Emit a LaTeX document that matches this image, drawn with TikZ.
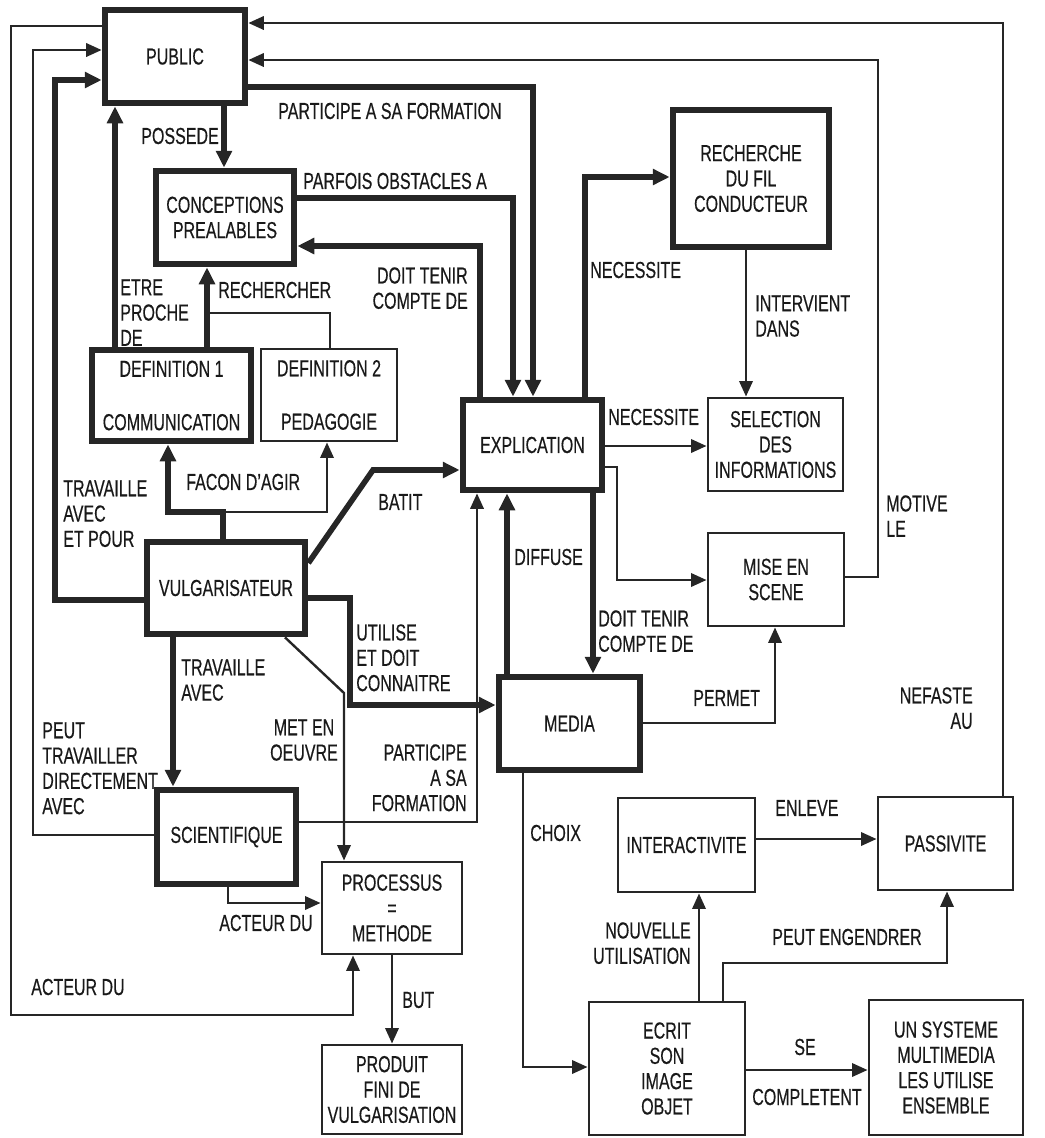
\documentclass[tikz,border=0pt]{standalone}
\usepackage{fontspec}
\setmainfont[FakeStretch=0.69, FakeBold=0.4]{Liberation Sans}
\usetikzlibrary{arrows.meta, positioning, calc}

\begin{document}
\begin{tikzpicture}[
    x=0.025cm, y=-0.025cm,
    every node/.style={font=\fontsize{16.5}{18}\selectfont, text=black!90},
    sz/.style 2 args={minimum width=#1*0.025cm, minimum height=#2*0.025cm},
    thickbox/.style={rectangle, draw=black!85, line width=4.8pt, align=center, inner sep=2pt},
    thinbox/.style={rectangle, draw=black!85, line width=2.1pt, align=center, inner sep=2pt},
    lbl/.style={inner sep=0pt, align=left},
    thk/.style={-{Triangle[length=12pt, width=11pt]}, line width=4pt, draw=black!85},
    thn/.style={-{Triangle[length=11pt, width=9.5pt]}, line width=1.7pt, draw=black!85},
    plain/.style={line width=1.7pt, draw=black!85}
]
    \useasboundingbox (0,0) rectangle (1045,1138);

    % boxes
    \node (pub) [thickbox, sz={140}{93}] at (175,56.5) {PUBLIC};
    \node (conc) [thickbox, sz={138}{93}] at (225,217.5) {CONCEPTIONS\\PREALABLES};
    \node (def1) [thickbox, sz={159}{91}] at (171.5,395.5) {DEFINITION 1\\[20pt]COMMUNICATION};
    \node (def2) [thinbox, sz={136}{92}] at (329,395) {DEFINITION 2\\[20pt]PEDAGOGIE};
    \node (expl) [thickbox, sz={139}{90}] at (532.5,445) {EXPLICATION};
    \node (rech) [thickbox, sz={156}{137}] at (751,178.5) {RECHERCHE\\DU FIL\\CONDUCTEUR};
    \node (sel) [thinbox, sz={135}{93}] at (775.5,444.5) {SELECTION\\DES\\INFORMATIONS};
    \node (mise) [thinbox, sz={136}{93}] at (776,579.5) {MISE EN\\SCENE};
    \node (vulg) [thickbox, sz={158}{92}] at (226,588) {VULGARISATEUR};
    \node (media) [thickbox, sz={141}{93}] at (569.5,723.5) {MEDIA};
    \node (sci) [thickbox, sz={139}{94}] at (226.5,837) {SCIENTIFIQUE};
    \node (proc) [thinbox, sz={140}{92}] at (392,908) {PROCESSUS\\=\\METHODE};
    \node (prod) [thinbox, sz={140}{89}] at (392,1089.5) {PRODUIT\\FINI DE\\VULGARISATION};
    \node (inter) [thinbox, sz={137}{94}] at (686.5,845) {INTERACTIVITE};
    \node (pass) [thinbox, sz={135}{93}] at (945.5,843.5) {PASSIVITE};
    \node (ecrit) [thinbox, sz={156}{133}] at (667,1068.5) {ECRIT\\SON\\IMAGE\\OBJET};
    \node (syst) [thinbox, sz={154}{135}] at (946,1067.5) {UN SYSTEME\\MULTIMEDIA\\LES UTILISE\\ENSEMBLE};

    \coordinate (fork) at (223,512);
    \coordinate (rjoin) at (207,313);

    % labels
    \node (lPossede) [lbl, anchor=east] at (219,136) {POSSEDE};
    \node (lForm1) [lbl, anchor=west] at (278,111) {PARTICIPE A SA FORMATION};
    \node (lObst) [lbl, anchor=west] at (303,181) {PARFOIS OBSTACLES A};
    \node (lTenir1) [lbl, anchor=north east, align=right] at (468,267) {DOIT TENIR\\COMPTE DE};
    \node (lProche) [lbl, anchor=north west] at (120,279) {ETRE\\PROCHE\\DE};
    \node (lRech) [lbl, anchor=west] at (218,290) {RECHERCHER};
    \node (lFacon) [lbl, anchor=west] at (186,482) {FACON D'AGIR};
    \node (lPour) [lbl, anchor=north west] at (63,480) {TRAVAILLE\\AVEC\\ET POUR};
    \node (lBatit) [lbl, anchor=west] at (378,502) {BATIT};
    \node (lUtil) [lbl, anchor=north west] at (356,624) {UTILISE\\ET DOIT\\CONNAITRE};
    \node (lAvec) [lbl, anchor=north west] at (181,659) {TRAVAILLE\\AVEC};
    \node (lDirect) [lbl, anchor=north west] at (42,722) {PEUT\\TRAVAILLER\\DIRECTEMENT\\AVEC};
    \node (lOeuvre) [lbl, anchor=north, align=center] at (304,719) {MET EN\\OEUVRE};
    \node (lForm2) [lbl, anchor=north east, align=right] at (467,744) {PARTICIPE\\A SA\\FORMATION};
    \node (lActeur1) [lbl, anchor=east] at (313,923) {ACTEUR DU};
    \node (lActeur2) [lbl, anchor=west] at (31,987) {ACTEUR DU};
    \node (lBut) [lbl, anchor=west] at (402,1000) {BUT};
    \node (lDiffuse) [lbl, anchor=west] at (514,557) {DIFFUSE};
    \node (lTenir2) [lbl, anchor=north west] at (598,610) {DOIT TENIR\\COMPTE DE};
    \node (lNec1) [lbl, anchor=west] at (590,270) {NECESSITE};
    \node (lInterv) [lbl, anchor=north west] at (755,295) {INTERVIENT\\DANS};
    \node (lNec2) [lbl, anchor=west] at (608,417) {NECESSITE};
    \node (lMotive) [lbl, anchor=north west] at (886,495) {MOTIVE\\LE};
    \node (lNefaste) [lbl, anchor=north east, align=right] at (973,687) {NEFASTE\\AU};
    \node (lPermet) [lbl, anchor=west] at (693,698) {PERMET};
    \node (lChoix) [lbl, anchor=west] at (530,833) {CHOIX};
    \node (lEnleve) [lbl, anchor=west] at (775,808) {ENLEVE};
    \node (lNouv) [lbl, anchor=north east, align=right] at (691,922) {NOUVELLE\\UTILISATION};
    \node (lEngendrer) [lbl, anchor=west] at (772,937) {PEUT ENGENDRER};
    \node (lSe) [lbl] at (805,1047) {SE};
    \node (lCompl) [lbl, anchor=west] at (752,1097) {COMPLETENT};

    % thick connectors
    \draw [thk] (pub.south -| 224,0) -- (conc.north -| 224,0);
    \draw [thk] (def1.north -| 115,0) -- (pub.south -| 115,0);
    \draw [thk] (vulg.west |- 0,600) -| (55,80) -- (pub.west |- 0,80);
    \draw [thk] (pub.east |- 0,87) -| (expl.north -| 533,0);
    \draw [thk] (conc.east |- 0,198) -| (expl.north -| 513,0);
    \draw [thk] (expl.north -| 480,0) |- (conc.east |- 0,246);
    \draw [thk] (def1.north -| 207,0) -- (conc.south -| 207,0);
    \draw [thk] (vulg.north -| 223,0) -- (fork) -| (def1.south -| 168,0);
    \draw [thk] (vulg.east |- 0,563) -- (373,470) -- (expl.west |- 0,470);
    \draw [thk] (vulg.east |- 0,598) -| (350,705) -- (media.west |- 0,705);
    \draw [thk] (vulg.south -| 173,0) -- (sci.north -| 173,0);
    \draw [thk] (media.north -| 507,0) -- (expl.south -| 507,0);
    \draw [thk] (expl.south -| 593,0) -- (media.north -| 593,0);
    \draw [thk] (expl.north -| 585,0) |- (rech.west |- 0,177);

    % thin connectors
    \draw [plain] (def2.north -| 330,0) |- (rjoin);
    \draw [thn] (fork) -| (def2.south -| 327,0);
    \draw [thn] (vulg.south -| 285,0) -- (344,693) -- (proc.north -| 344,0);
    \draw [thn] (sci.east |- 0,822) -| (expl.south -| 477,0);
    \draw [thn] (sci.south -| 228,0) |- (proc.west |- 0,903);
    \draw [thn] (pub.west |- 0,26) -| (11,1015) -| (proc.south -| 353,0);
    \draw [thn] (sci.west |- 0,835) -| (33,50) -- (pub.west |- 0,50);
    \draw [thn] (proc) -- (prod);
    \draw [thn] (rech.south -| 746,0) -- (sel.north -| 746,0);
    \draw [thn] (expl.east |- 0,446) -- (sel.west |- 0,446);
    \draw [thn] (expl.east |- 0,467) -| (617,580) -- (mise.west |- 0,580);
    \draw [thn] (media.east |- 0,723) -| (mise.south -| 775,0);
    \draw [thn] (mise.east |- 0,577) -| (878,60) -- (pub.east |- 0,60);
    \draw [thn] (pass.north -| 1003,0) |- (pub.east |- 0,23);
    \draw [thn] (media.south -| 523,0) |- (ecrit.west |- 0,1067);
    \draw [thn] (ecrit.north -| 699,0) -- (inter.south -| 699,0);
    \draw [thn] (ecrit.north -| 723,0) |- (947,963) -- (pass.south -| 947,0);
    \draw [thn] (inter.east |- 0,839) -- (pass.west |- 0,839);
    \draw [thn] (ecrit.east |- 0,1070) -- (syst.west |- 0,1070);
\end{tikzpicture}
\end{document}
